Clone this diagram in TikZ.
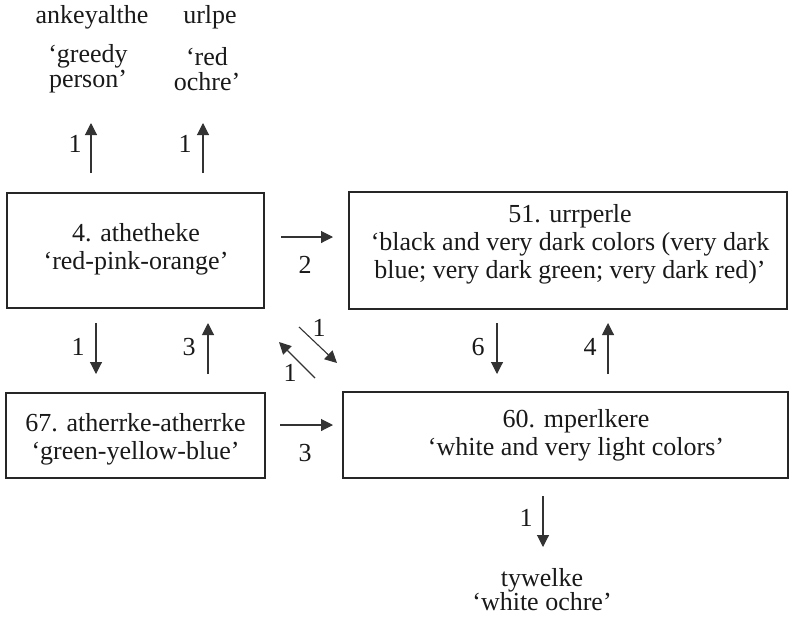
\documentclass[tikz,border=0pt]{standalone}
\usepackage{fontspec}
\setmainfont{Liberation Serif}
\usetikzlibrary{arrows.meta}
\begin{document}
\begin{tikzpicture}[x=1pt,y=-1pt,
  txt/.style={font=\fontsize{26}{28}\selectfont, align=center, inner sep=0pt, text=black!90},
  toptxt/.style={font=\fontsize{26}{25}\selectfont, align=center, inner sep=0pt, text=black!90},
  boxshape/.style={draw=black!85, line width=1.3pt, inner sep=0pt},
  arr/.style={line width=1.1pt, draw=black!80, -{Triangle[length=12pt,width=12pt]}},
  num/.style={font=\fontsize{26}{28}\selectfont, inner sep=0pt, text=black!90},
]
\useasboundingbox (0,0) rectangle (791,619);

% boxes
\node[boxshape, minimum width=257pt, minimum height=115pt] (A) at (135.5,250.5) {};
\node[txt] (At) at (136,249) {4. athetheke\\‘red-pink-orange’};
\node[boxshape, minimum width=438pt, minimum height=117pt] (B) at (568,250.5) {};
\node[txt] (Bt) at (570,244) {51. urrperle\\‘black and very dark colors (very dark\\blue; very dark green; very dark red)’};
\node[boxshape, minimum width=259pt, minimum height=85pt] (C) at (135.5,435.5) {};
\node[txt] (Ct) at (135.5,439) {67. atherrke-atherrke\\‘green-yellow-blue’};
\node[boxshape, minimum width=445pt, minimum height=86pt] (D) at (565.5,435) {};
\node[txt] (Dt) at (576,435) {60. mperlkere\\‘white and very light colors’};

% outer labels
\node[txt] (ank) at (92,17) {ankeyalthe};
\node[txt] (url) at (210,17) {urlpe};
\node[toptxt] (greedy) at (88,69) {‘greedy\\person’};
\node[toptxt] (redo) at (207,69) {‘red\\ochre’};
\node[toptxt, font=\fontsize{26}{24}\selectfont] (tyw) at (542,590) {tywelke\\‘white ochre’};

% arrow end points
\coordinate (g1) at (91,173);  \coordinate (g2) at (91,123);
\coordinate (r1) at (203,173); \coordinate (r2) at (203,123);
\coordinate (ab1) at (281,237); \coordinate (ab2) at (333,237);
\coordinate (ac1) at (96,323);  \coordinate (ac2) at (96,374);
\coordinate (ca1) at (208,374); \coordinate (ca2) at (208,323);
\coordinate (ad1) at (299,327); \coordinate (ad2) at (337,363);
\coordinate (da1) at (315,378); \coordinate (da2) at (279,342);
\coordinate (cd1) at (280,425); \coordinate (cd2) at (333,425);
\coordinate (bd1) at (497,323); \coordinate (bd2) at (497,374);
\coordinate (db1) at (608,374); \coordinate (db2) at (608,323);
\coordinate (dt1) at (543,496); \coordinate (dt2) at (543,547);

\draw[arr] (g1) -- (g2);
\draw[arr] (r1) -- (r2);
\draw[arr] (ab1) -- (ab2);
\draw[arr] (ac1) -- (ac2);
\draw[arr] (ca1) -- (ca2);
\draw[arr] (ad1) -- (ad2);
\draw[arr] (da1) -- (da2);
\draw[arr] (cd1) -- (cd2);
\draw[arr] (bd1) -- (bd2);
\draw[arr] (db1) -- (db2);
\draw[arr] (dt1) -- (dt2);

% numbers
\node[num] (n1) at (75,144) {1};
\node[num] (n2) at (185,144) {1};
\node[num] (n3) at (305,265) {2};
\node[num] (n4) at (78,347) {1};
\node[num] (n5) at (189,347) {3};
\node[num] (n6) at (319,328) {1};
\node[num] (n7) at (290,373) {1};
\node[num] (n8) at (305,453) {3};
\node[num] (n9) at (478,347) {6};
\node[num] (n10) at (590,347) {4};
\node[num] (n11) at (526,518) {1};
\end{tikzpicture}
\end{document}
